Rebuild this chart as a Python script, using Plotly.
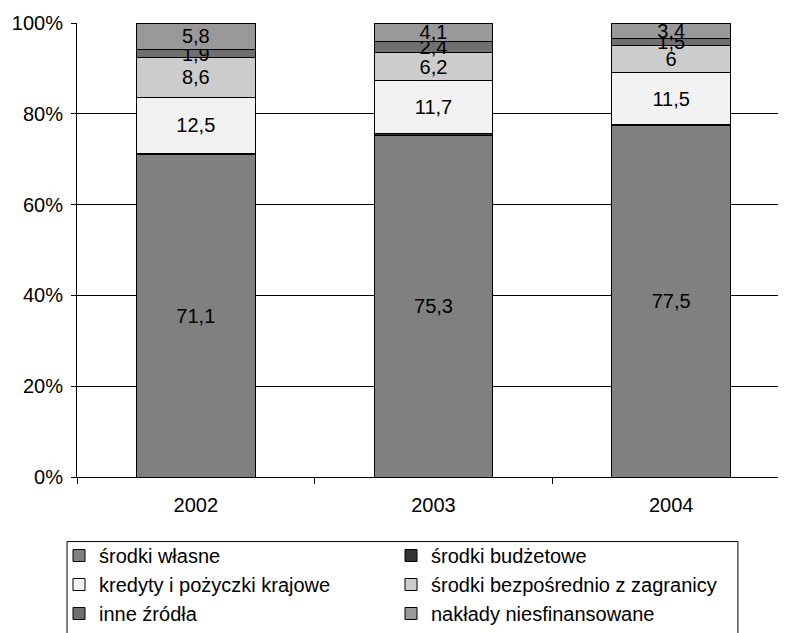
import plotly.graph_objects as go

years = ["2002", "2003", "2004"]
series_names = [
    "środki własne",
    "środki budżetowe",
    "kredyty i pożyczki krajowe",
    "środki bezpośrednio z zagranicy",
    "inne źródła",
    "nakłady niesfinansowane",
]
srodki_wlasne = [71.1, 75.3, 77.5]
srodki_budzetowe = [0.1, 0.3, 0.1]
kredyty = [12.5, 11.7, 11.5]
zagranica = [8.6, 6.2, 6.0]
inne = [1.9, 2.4, 1.5]
niesfinansowane = [5.8, 4.1, 3.4]
values = [srodki_wlasne, srodki_budzetowe, kredyty, zagranica, inne, niesfinansowane]
colors = ["#808080", "#333333", "#F2F2F2", "#CCCCCC", "#707070", "#999999"]
show_labels = [True, False, True, True, True, True]
y_ticks = [0, 20, 40, 60, 80, 100]

FONT = "Liberation Sans, Arial, sans-serif"

def fmt(v):
    s = ("%.1f" % v).rstrip("0").rstrip(".")
    return s.replace(".", ",")

fig = go.Figure()
for name, vals, col, lab in zip(series_names, values, colors, show_labels):
    fig.add_trace(go.Bar(
        x=years, y=vals, name=name,
        marker=dict(color=col, line=dict(color="#000000", width=1)),
        text=[fmt(v) for v in vals] if lab else None,
        textposition="inside" if lab else "none",
        insidetextanchor="middle",
        constraintext="none",
        textangle=0,
        insidetextfont=dict(color="#000000", size=20, family=FONT),
        width=0.5,
        hoverinfo="skip",
    ))

# invisible traces to activate the grid axes
fig.add_trace(go.Scatter(x=years, y=[None, None, None], yaxis="y2", mode="lines",
                         showlegend=False, hoverinfo="skip"))
fig.add_trace(go.Scatter(x=years, y=[None, None, None], yaxis="y3", mode="lines",
                         showlegend=False, hoverinfo="skip"))

fig.update_layout(
    barmode="stack",
    width=786, height=633,
    margin=dict(l=68, r=4, t=12, b=164),
    paper_bgcolor="white", plot_bgcolor="white",
    font=dict(family=FONT, size=20, color="#000000"),
    showlegend=True,
    legend=dict(
        orientation="h",
        xref="container", yref="container",
        x=51 / 786, xanchor="left",
        y=1 - 528 / 633, yanchor="top",
        entrywidth=287, entrywidthmode="pixels",
        traceorder="normal",
        borderwidth=0,
        bgcolor="rgba(0,0,0,0)",
        font=dict(size=20, family=FONT),
    ),
    xaxis=dict(
        type="category",
        range=[-0.5, 2.5],
        showline=True, linecolor="#000000", linewidth=1,
        ticks="outside", ticklen=6, tickcolor="#000000",
        tickson="boundaries",
        ticklabelstandoff=10,
        showgrid=False,
        tickfont=dict(size=20),
    ),
    yaxis=dict(
        range=[0, 100],
        tickvals=y_ticks,
        ticktext=[f"{v}%" for v in y_ticks],
        showline=True, linecolor="#000000", linewidth=1,
        ticks="outside", ticklen=5, tickcolor="#000000",
        ticklabelstandoff=4,
        showgrid=False, zeroline=False,
        tickfont=dict(size=20),
    ),
    yaxis2=dict(
        range=[0, 100], overlaying="y", side="left",
        tickvals=y_ticks[1:-1], showticklabels=False,
        showgrid=True, gridcolor="#000000", gridwidth=1,
        zeroline=False, showline=False, ticks="",
        layer="below traces",
    ),
    yaxis3=dict(
        range=[0, 100], overlaying="y", side="left",
        tickvals=y_ticks[-1:], showticklabels=False,
        showgrid=True, gridcolor="#E6E6E6", gridwidth=1,
        zeroline=False, showline=False, ticks="",
        layer="below traces",
    ),
    shapes=[dict(
        type="rect", xref="paper", yref="paper",
        x0=-0.014, x1=0.927, y0=-0.45, y1=-0.1422,
        line=dict(color="#000000", width=1),
        fillcolor="rgba(0,0,0,0)",
        layer="below",
    )],
)

fig.write_html("out.html")
